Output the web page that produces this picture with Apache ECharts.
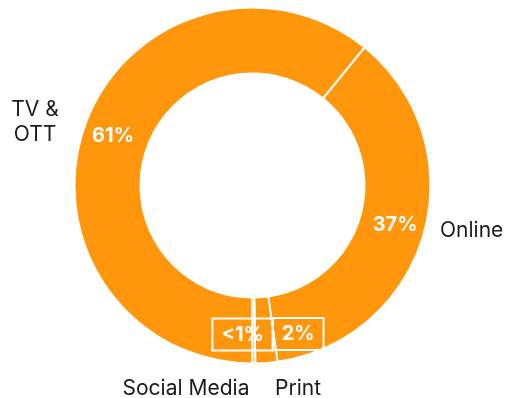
<!DOCTYPE html>
<html>
<head>
<meta charset="utf-8">
<script src="https://cdn.jsdelivr.net/npm/echarts@6/dist/echarts.min.js"></script>
<style>
  html, body { margin: 0; padding: 0; background: #fff; }
  #chart { width: 506px; height: 398px; }
</style>
</head>
<body>
<div id="chart"></div>
<script>
// data
var categories = ["TV &\nOTT", "Online", "Print", "Social Media"];
var shares = [61, 37, 2, 0.25];
var shareLabels = ["61%", "37%", "2%", "<1%"];

// where the category names sit, and nudges for the two small boxed values
var namePos = [[35, 122, "center"], [440, 231, "left"], [298, 389, "center"], [186, 389, "center"]];
var valueNudge = [[0, 0], [0, 0], [34, 1], [-11, 1]];

var orange = "#ff960c";
var font = "Inter";

var myChart = echarts.init(document.getElementById("chart"));

var ringData = categories.map(function (name, i) {
  var item = { name: name, value: shares[i] };
  if (i >= 2) {
    // small slices get the white outlined box
    item.label = {
      borderColor: "#fff",
      borderWidth: 2,
      padding: [6, 9],
      lineHeight: 20
    };
  }
  return item;
});

var option = {
  animation: false,
  series: [
    {
      name: "share",
      type: "pie",
      center: [252.5, 185.5],
      radius: [112, 178],
      startAngle: -90,
      clockwise: true,
      silent: true,
      itemStyle: {
        color: orange,
        borderColor: "#fff",
        borderWidth: 2
      },
      label: {
        show: true,
        position: "inside",
        color: "#fff",
        fontFamily: font,
        fontWeight: "bold",
        fontSize: 20,
        formatter: function (p) {
          return shareLabels[p.dataIndex];
        }
      },
      labelLayout: function (p) {
        return { dx: valueNudge[p.dataIndex][0], dy: valueNudge[p.dataIndex][1] };
      },
      labelLine: { show: false },
      data: ringData
    },
    {
      // invisible copy only carrying the category names
      name: "names",
      type: "pie",
      center: [252.5, 185.5],
      radius: [112, 178],
      startAngle: -90,
      clockwise: true,
      silent: true,
      itemStyle: { color: "transparent", borderWidth: 0 },
      label: {
        show: true,
        position: "outside",
        color: "#1a1a1a",
        fontFamily: font,
        fontSize: 21,
        lineHeight: 25,
        align: "center",
        overflow: "none",
        formatter: "{b}"
      },
      labelLine: { show: false },
      labelLayout: function (p) {
        var pos = namePos[p.dataIndex];
        return { x: pos[0], y: pos[1], align: pos[2], verticalAlign: "middle" };
      },
      data: categories.map(function (name, i) {
        return { name: name, value: shares[i] };
      })
    }
  ]
};

myChart.setOption(option);
</script>
</body>
</html>
